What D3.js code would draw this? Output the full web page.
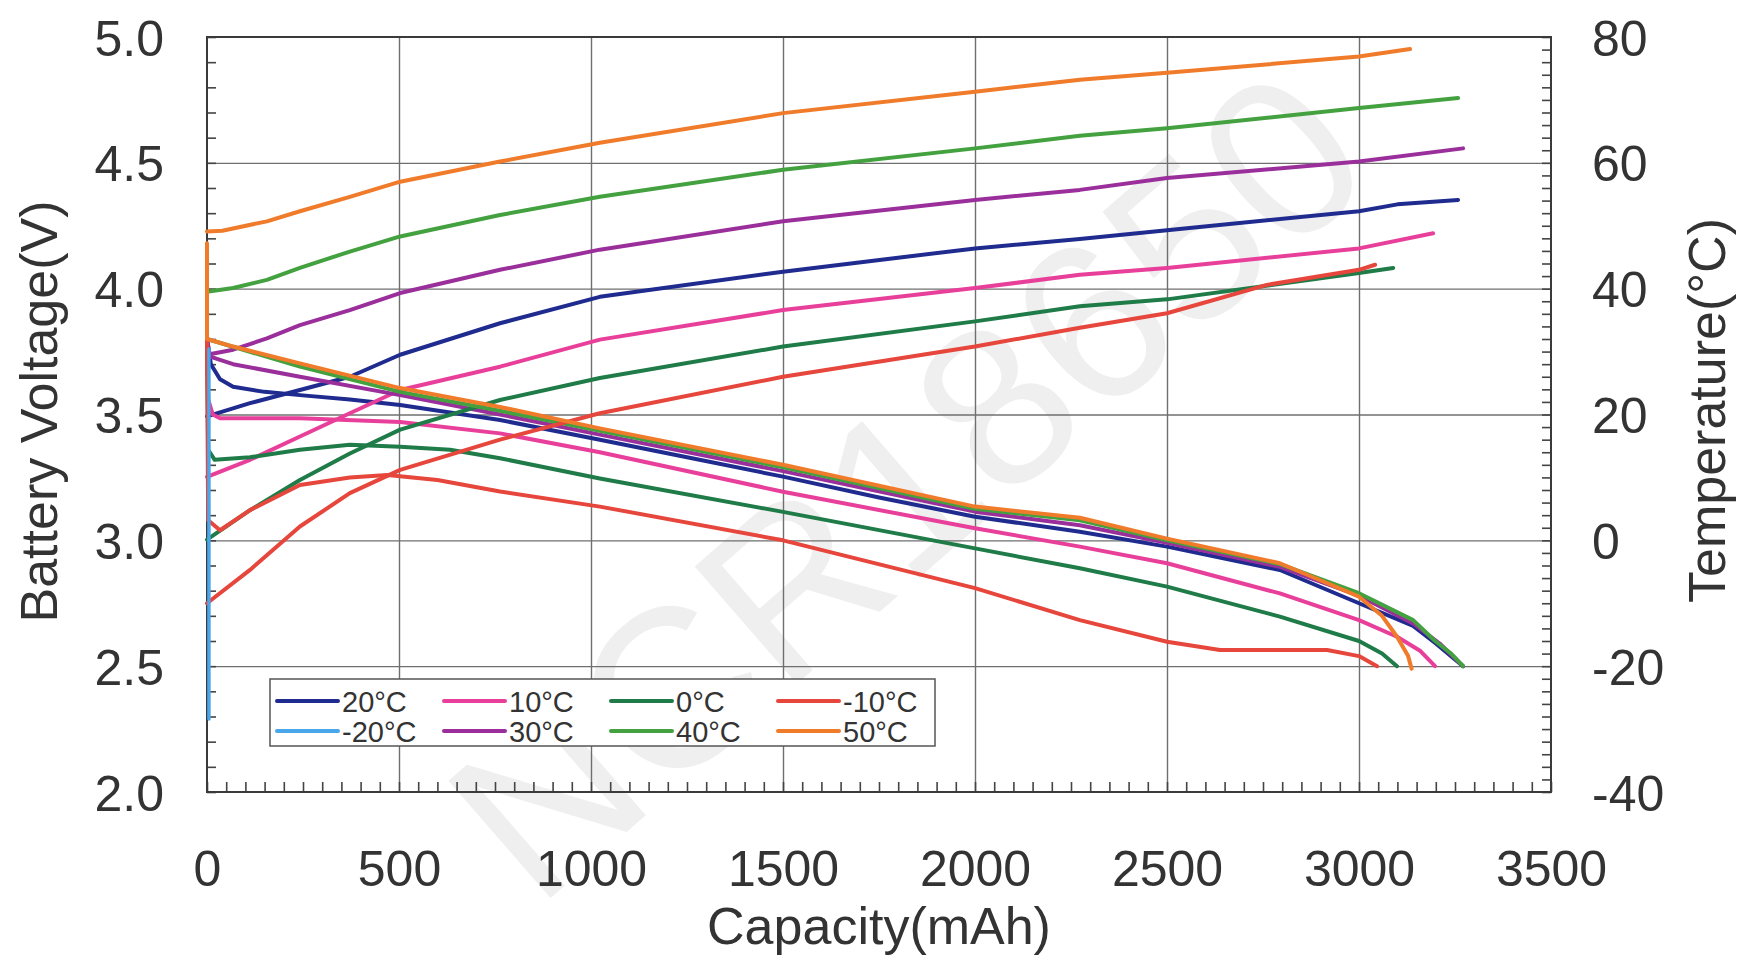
<!DOCTYPE html>
<html>
<head>
<meta charset="utf-8">
<script src="https://cdn.jsdelivr.net/npm/d3@7"></script>
<style>
  body { margin: 0; background: #fff; }
  svg { display: block; }
  text { font-family: "Liberation Sans", Arial, sans-serif; }
</style>
</head>
<body>
<svg id="chart" width="1742" height="959"></svg>
<script>
// ---------------- data ----------------
const capTicks  = [0, 500, 1000, 1500, 2000, 2500, 3000, 3500];
const voltTicks = [2.0, 2.5, 3.0, 3.5, 4.0, 4.5, 5.0];
const tempTicks = [-40, -20, 0, 20, 40, 60, 80];

const seriesNames = ["20°C", "-20°C", "10°C", "30°C", "0°C", "40°C", "-10°C", "50°C"];
const watermarkText = "NCR18650";

// discharge voltage curves [capacity mAh, V]
const volt20  = [[0,3.80],[10,3.70],[34,3.64],[68,3.61],[150,3.59],[242,3.577],[372,3.56],[503,3.538],[763,3.478],[1023,3.40],[1250,3.33],[1500,3.253],[1750,3.17],[2000,3.094],[2273,3.034],[2500,2.975],[2794,2.882],[3000,2.75],[3141,2.66],[3200,2.59],[3271,2.5]];
const voltM20 = [[5,3.76],[5,2.29]];
const volt10  = [[0,3.80],[3,3.56],[15,3.50],[34,3.485],[242,3.485],[503,3.47],[763,3.425],[1023,3.35],[1500,3.193],[2000,3.048],[2273,2.975],[2500,2.909],[2794,2.789],[3000,2.683],[3099,2.617],[3160,2.56],[3198,2.5]];
const volt30  = [[0,3.80],[8,3.73],[68,3.70],[242,3.65],[503,3.577],[763,3.50],[1023,3.42],[1500,3.275],[2000,3.114],[2273,3.06],[2500,2.99],[2794,2.895],[3000,2.78],[3141,2.67],[3210,2.59],[3271,2.5]];
const volt0   = [[0,3.80],[3,3.36],[20,3.32],[112,3.33],[242,3.36],[372,3.38],[503,3.372],[633,3.36],[763,3.326],[1023,3.246],[1500,3.113],[2000,2.968],[2273,2.889],[2500,2.816],[2794,2.697],[3000,2.60],[3060,2.55],[3099,2.5]];
const volt40  = [[0,3.80],[242,3.69],[503,3.59],[763,3.515],[1023,3.435],[1500,3.29],[2000,3.125],[2273,3.08],[2500,3.0],[2794,2.905],[3000,2.79],[3141,2.683],[3198,2.60],[3240,2.55],[3271,2.5]];
const voltM10 = [[0,3.80],[3,3.08],[34,3.04],[112,3.12],[242,3.22],[372,3.25],[470,3.26],[600,3.24],[763,3.194],[1023,3.134],[1500,3.0],[2000,2.81],[2273,2.683],[2500,2.597],[2638,2.564],[2917,2.564],[3000,2.54],[3047,2.5]];
const volt50  = [[0,4.18],[0,3.80],[68,3.77],[242,3.703],[503,3.605],[763,3.53],[1023,3.445],[1500,3.30],[2000,3.134],[2273,3.09],[2500,3.007],[2794,2.909],[3000,2.776],[3060,2.70],[3099,2.617],[3128,2.54],[3137,2.49]];

// cell temperature curves [capacity mAh, °C]
const temp20  = [[0,19.7],[112,21.8],[242,23.9],[372,26.0],[503,29.5],[763,34.5],[1023,38.7],[1500,42.7],[2000,46.4],[2273,47.9],[2500,49.3],[3000,52.3],[3100,53.4],[3258,54.1]];
const tempM20 = [];
const temp10  = [[0,10.1],[112,12.8],[242,16.5],[372,20.2],[503,23.9],[763,27.6],[1023,31.9],[1500,36.6],[2000,40.1],[2273,42.2],[2500,43.3],[3000,46.4],[3193,48.8]];
const temp30  = [[0,29.5],[68,30.3],[156,32.1],[242,34.2],[372,36.6],[503,39.3],[763,43.0],[1023,46.2],[1500,50.7],[2000,54.1],[2273,55.7],[2500,57.6],[3000,60.2],[3271,62.3]];
const temp0   = [[0,0.1],[112,4.8],[242,9.6],[372,13.8],[503,17.6],[763,22.3],[1023,25.8],[1500,30.8],[2000,34.8],[2273,37.2],[2500,38.3],[3000,42.5],[3089,43.3]];
const temp40  = [[0,39.5],[68,40.1],[156,41.4],[242,43.3],[372,45.9],[503,48.3],[763,51.7],[1023,54.6],[1500,58.9],[2000,62.3],[2273,64.3],[2500,65.5],[3000,68.7],[3258,70.3]];
const tempM10 = [[0,-10],[112,-4.7],[242,2.2],[372,7.5],[503,11.2],[763,16.0],[1023,20.2],[1500,26.0],[2000,30.8],[2273,33.8],[2500,36.1],[2760,40.6],[3000,43.0],[3042,43.8]];
const temp50  = [[0,49.1],[40,49.2],[156,50.7],[242,52.3],[372,54.6],[503,57.0],[763,60.2],[1023,63.2],[1500,67.9],[2000,71.3],[2273,73.2],[2500,74.3],[3000,76.9],[3133,78.1]];

const voltSeries = [volt20, voltM20, volt10, volt30, volt0, volt40, voltM10, volt50];
const tempSeries = [temp20, tempM20, temp10, temp30, temp0, temp40, tempM10, temp50];

// ---------------- styles ----------------
const colors = ["#1f2b8e", "#4aa6ea", "#e8409a", "#9a2f9c", "#1f7b47", "#44a140", "#e6463c", "#f07b2a"];
const inkColor = "#333";

// ---------------- layout ----------------
const L = 207, R = 1551, T = 37, B = 792;
const svg = d3.select("#chart");

const x  = d3.scaleLinear().domain([0, 3500]).range([L, R]);
const yV = d3.scaleLinear().domain([2, 5]).range([B, T]);
const yT = d3.scaleLinear().domain([-40, 80]).range([B, T]);

// watermark (kept inside the canvas)
svg.append("text")
  .attr("transform", "translate(905,482) rotate(-41)")
  .attr("text-anchor", "middle")
  .attr("dy", "0.36em")
  .attr("font-size", 226)
  .attr("fill", "#efefef")
  .text(watermarkText);

// grid lines
svg.append("g")
  .attr("transform", `translate(0,${B})`)
  .call(d3.axisBottom(x).tickValues(capTicks.slice(1, -1)).tickSize(-(B - T)).tickFormat(""))
  .call(g => g.select(".domain").remove())
  .selectAll("line").attr("stroke", "#6f6f6f").attr("stroke-width", 1.4);

svg.append("g")
  .attr("transform", `translate(${L},0)`)
  .call(d3.axisLeft(yV).tickValues(voltTicks.slice(1, -1)).tickSize(-(R - L)).tickFormat(""))
  .call(g => g.select(".domain").remove())
  .selectAll("line").attr("stroke", "#6f6f6f").attr("stroke-width", 1.4);

// minor inward ticks
function minor(g) {
  g.select(".domain").remove();
  g.selectAll("line").attr("stroke", "#444").attr("stroke-width", 1.6);
}
svg.append("g").attr("transform", `translate(${L},0)`)
  .call(d3.axisRight(yV).tickValues(d3.range(20, 51).map(d => d / 10)).tickSize(9).tickFormat(""))
  .call(minor);
svg.append("g").attr("transform", `translate(${R},0)`)
  .call(d3.axisLeft(yT).tickValues(d3.range(-40, 81, 2)).tickSize(9).tickFormat(""))
  .call(minor);
svg.append("g").attr("transform", `translate(0,${B})`)
  .call(d3.axisTop(x).tickValues(d3.range(0, 3501, 50)).tickSize(10).tickFormat(""))
  .call(minor);

// frame
svg.append("rect")
  .attr("x", L).attr("y", T).attr("width", R - L).attr("height", B - T)
  .attr("fill", "none").attr("stroke", "#3a3a3a").attr("stroke-width", 2);

// tick labels
function labels(g) {
  g.select(".domain").remove();
  g.selectAll("line").remove();
  g.selectAll("text")
    .attr("font-family", '"Liberation Sans", Arial, sans-serif')
    .attr("font-size", 50).attr("fill", inkColor);
}
svg.append("g").attr("transform", `translate(${L},0)`)
  .call(d3.axisLeft(yV).tickValues(voltTicks).tickSize(0).tickPadding(43).tickFormat(d3.format(".1f")))
  .call(labels)
  .selectAll("text").attr("dy", "0.36em");
svg.append("g").attr("transform", `translate(${R},0)`)
  .call(d3.axisRight(yT).tickValues(tempTicks).tickSize(0).tickPadding(41).tickFormat(d => String(d)))
  .call(labels)
  .selectAll("text").attr("dy", "0.36em");
svg.append("g").attr("transform", `translate(0,${B})`)
  .call(d3.axisBottom(x).tickValues(capTicks).tickSize(0).tickPadding(58).tickFormat(d => String(d)))
  .call(labels)
  .selectAll("text").attr("dy", "0.71em");

// axis titles
svg.append("text")
  .attr("x", (L + R) / 2).attr("y", 944)
  .attr("text-anchor", "middle").attr("font-size", 52).attr("fill", inkColor)
  .text("Capacity(mAh)");
svg.append("text")
  .attr("transform", `translate(57,${(T + B) / 2 - 3}) rotate(-90)`)
  .attr("text-anchor", "middle").attr("font-size", 52).attr("fill", inkColor)
  .text("Battery Voltage(V)");
svg.append("text")
  .attr("transform", `translate(1725,${(T + B) / 2 - 4}) rotate(-90)`)
  .attr("text-anchor", "middle").attr("font-size", 52).attr("fill", inkColor)
  .text("Temperature(°C)");

// curves
const lineV = d3.line().x(d => x(d[0])).y(d => yV(d[1]));
const lineT = d3.line().x(d => x(d[0])).y(d => yT(d[1]));
const curves = svg.append("g").attr("fill", "none")
  .attr("stroke-width", 4).attr("stroke-linejoin", "round").attr("stroke-linecap", "round");
const lateIndex = 1; // the -20°C trace sits on top of the other start-up drops
seriesNames.forEach((name, i) => {
  if (i === lateIndex) return;
  if (tempSeries[i].length) curves.append("path").attr("d", lineT(tempSeries[i])).attr("stroke", colors[i]);
  if (voltSeries[i].length) curves.append("path").attr("d", lineV(voltSeries[i])).attr("stroke", colors[i]);
});
if (tempSeries[lateIndex].length) curves.append("path").attr("d", lineT(tempSeries[lateIndex])).attr("stroke", colors[lateIndex]);
curves.append("path").attr("d", lineV(voltSeries[lateIndex])).attr("stroke", colors[lateIndex]).attr("stroke-width", 3.5);

// legend
const lg = svg.append("g");
lg.append("rect").attr("x", 270).attr("y", 679).attr("width", 665).attr("height", 67)
  .attr("fill", "#fff").attr("stroke", "#555").attr("stroke-width", 1.5);
seriesNames.forEach((name, i) => {
  const col = Math.floor(i / 2), row = i % 2;
  const lx = 277 + col * 167, ly = 701 + row * 30;
  lg.append("line").attr("x1", lx).attr("x2", lx + 61).attr("y1", ly).attr("y2", ly)
    .attr("stroke", colors[i]).attr("stroke-width", 4).attr("stroke-linecap", "round");
  lg.append("text").attr("x", lx + 65).attr("y", ly + 11)
    .attr("font-size", 29).attr("fill", inkColor).text(name);
});
</script>
</body>
</html>
